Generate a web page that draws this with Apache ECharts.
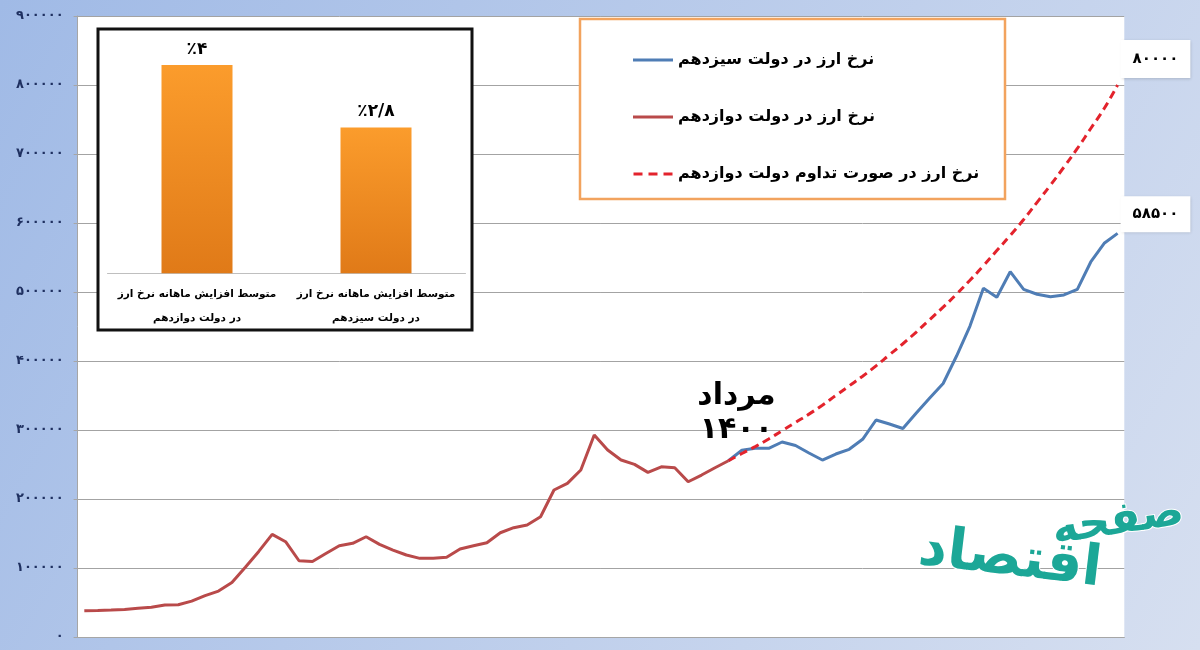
<!DOCTYPE html>
<html>
<head>
<meta charset="utf-8">
<script src="https://cdn.jsdelivr.net/npm/echarts@6/dist/echarts.min.js"></script>
<style>
html,body{margin:0;padding:0;}
#main{width:1200px;height:650px;}
</style>
</head>
<body>
<div id="main"></div>
<script>
// ---------- DATA ----------
// monthly index (78 months), only used as category slots
const monthCount = 78;
const months = Array.from({length: monthCount}, (_, i) => String(i + 1));

// exchange rate during 12th government (months 1..49)
const gov12 = [38100, 38500, 39000, 40000, 41500, 43000, 46400, 46800, 52000, 60000,
  66600, 79000, 101000, 124000, 148800, 138100, 110500, 109500, 121000, 132300,
  135800, 145300, 134300, 126000, 118800, 114000, 114000, 115500, 127500, 132300,
  136600, 151100, 158400, 162300, 174300, 213000, 222700, 242000, 292700, 271000,
  256500, 250200, 238600, 246700, 245300, 225000, 234700, 245300, 255400];

// exchange rate during 13th government (months 49..78)
const gov13 = [255400, 270600, 273500, 273500, 282600, 277500, 266700, 256500, 265200, 272000,
  286500, 314500, 308700, 302200, 324600, 346400, 367400, 407200, 450700, 505400,
  492300, 529400, 503900, 496700, 493200, 495700, 503900, 543500, 570600, 585000];

// projected rate if 12th government had continued (months 49..78)
const projected = [255400, 266000, 276000, 287000, 299000, 311000, 323000, 336000, 350000, 364000,
  378000, 393000, 409000, 425000, 442000, 460000, 478000, 497000, 517000, 538000,
  560000, 582000, 605000, 630000, 655000, 681000, 708000, 737000, 766000, 800000];

const seriesNames = ['نرخ ارز در دولت سیزدهم', 'نرخ ارز در دولت دوازدهم', 'نرخ ارز در صورت تداوم دولت دوازدهم'];
const yTicks = [0, 100000, 200000, 300000, 400000, 500000, 600000, 700000, 800000, 900000];
const endLabels = ['۸۰۰۰۰', '۵۸۵۰۰'];
const annotationText = ['مرداد', '۱۴۰۰'];
const startIndex13 = 48;

// inset bar chart
const insetCategories = ['متوسط افزایش ماهانه نرخ ارز\nدر دولت دوازدهم', 'متوسط افزایش ماهانه نرخ ارز\nدر دولت سیزدهم'];
const insetValues = [4, 2.8];
const insetLabels = ['٪۴', '٪۲/۸'];

const logoWords = ['اقتصاد', 'صفحه'];

// ---------- HELPERS ----------
const faDigits = '۰۱۲۳۴۵۶۷۸۹';
function toFa(n) { return String(n).replace(/[0-9]/g, d => faDigits[+d]); }
function pad(arr, start) { return Array(start).fill(null).concat(arr).concat(Array(Math.max(0, monthCount - start - arr.length)).fill(null)); }

const FONT = 'DejaVu Sans';
const solidIcon = 'path://M0,0H40V3H0Z';
const dashIcon = 'path://M0,0H9V3H0ZM15,0H24V3H15ZM30,0H39V3H30Z';
const chart = echarts.init(document.getElementById('main'), null, {renderer: 'canvas'});

const option = {
  animation: false,
  backgroundColor: new echarts.graphic.LinearGradient(0, 0, 1, 1, [
    {offset: 0, color: '#a0bae6'},
    {offset: 1, color: '#d6dff0'}
  ]),
  textStyle: {fontFamily: FONT},
  grid: [
    {left: 77.6, right: 75.7, top: 16, bottom: 13, show: true, backgroundColor: '#ffffff', borderWidth: 0},
    {left: 107.5, top: 65, width: 358, height: 208.3}
  ],
  legend: {
    data: [
      {name: seriesNames[0], icon: solidIcon},
      {name: seriesNames[1], icon: solidIcon},
      {name: seriesNames[2], icon: dashIcon}
    ],
    orient: 'vertical',
    left: 628,
    top: 45,
    itemWidth: 40,
    itemHeight: 3,
    itemGap: 37,
    textStyle: {fontFamily: FONT, fontSize: 16, fontWeight: 'bold', color: '#000', lineHeight: 20},
    z: 10
  },
  xAxis: [
    {gridIndex: 0, type: 'category', data: months, boundaryGap: true,
     axisLine: {show: true, lineStyle: {color: '#a6a6a6', width: 1}},
     axisTick: {show: false}, axisLabel: {show: false}, splitLine: {show: false}},
    {gridIndex: 1, type: 'category', data: insetCategories, z: 5,
     axisLine: {show: true, lineStyle: {color: '#bfbfbf', width: 1}},
     axisTick: {show: false},
     axisLabel: {interval: 0, margin: 9, fontFamily: FONT, fontSize: 10.5, fontWeight: 'bold', color: '#000', lineHeight: 24}}
  ],
  yAxis: [
    {gridIndex: 0, type: 'value', min: yTicks[0], max: yTicks[yTicks.length - 1], interval: 100000,
     axisLine: {show: true, lineStyle: {color: '#a6a6a6', width: 1}},
     axisTick: {show: true, length: 4, lineStyle: {color: '#a6a6a6'}},
     axisLabel: {margin: 14, formatter: v => toFa(v), fontFamily: FONT, fontSize: 13, fontWeight: 'bold', color: '#1f3060'},
     splitLine: {show: true, lineStyle: {color: '#a3a3a3', width: 1}}},
    {gridIndex: 1, type: 'value', min: 0, max: 4, show: false}
  ],
  graphic: [
    {type: 'rect', z: 1, shape: {x: 98, y: 29, width: 374, height: 301},
     style: {fill: '#ffffff', stroke: '#111111', lineWidth: 3}},
    {type: 'rect', z: 1, shape: {x: 580, y: 19, width: 425, height: 180},
     style: {fill: '#ffffff', stroke: '#f2a35e', lineWidth: 2.5}},
    {type: 'text', z: 5, x: 1010, y: 560, rotation: -0.12,
     style: {text: logoWords[0], fontFamily: FONT, fontSize: 56, fontWeight: 'bold', align: 'center', verticalAlign: 'middle',
             fill: '#1ca797', stroke: '#ffffff', lineWidth: 2,
             shadowColor: 'rgba(10,90,80,0.6)', shadowOffsetX: 2, shadowOffsetY: 2, shadowBlur: 1}},
    {type: 'text', z: 6, x: 1118, y: 522, rotation: 0.15,
     style: {text: logoWords[1], fontFamily: FONT, fontSize: 44, fontWeight: 'bold', align: 'center', verticalAlign: 'middle',
             fill: '#1ca797', stroke: '#ffffff', lineWidth: 2,
             shadowColor: 'rgba(10,90,80,0.6)', shadowOffsetX: 2, shadowOffsetY: 2, shadowBlur: 1}}
  ],
  series: [
    {
      name: seriesNames[1], type: 'line', xAxisIndex: 0, yAxisIndex: 0, z: 2,
      data: pad(gov12, 0), symbol: 'none', connectNulls: false,
      lineStyle: {color: '#b94a4a', width: 3}, itemStyle: {color: '#b94a4a'},
      markPoint: {
        symbol: 'circle', symbolSize: 0,
        data: [{coord: [gov12.length - 1, gov12[gov12.length - 1]]}],
        label: {show: true, formatter: annotationText.join('\n'), position: 'inside',
                offset: [8, -48], fontFamily: FONT, fontSize: 30, fontWeight: 'bold',
                color: '#000', lineHeight: 34, align: 'center'}
      }
    },
    {
      name: seriesNames[0], type: 'line', xAxisIndex: 0, yAxisIndex: 0, z: 3,
      data: pad(gov13, startIndex13), symbol: 'none',
      lineStyle: {color: '#4f7db5', width: 3}, itemStyle: {color: '#4f7db5'},
      endLabel: {show: true, formatter: endLabels[1], distance: 3, offset: [0, -19],
                 backgroundColor: '#ffffff', padding: [11, 12, 10, 12],
                 fontFamily: FONT, fontSize: 15, fontWeight: 'bold', color: '#000',
                 shadowColor: 'rgba(0,0,0,0.18)', shadowBlur: 3, shadowOffsetX: 1, shadowOffsetY: 1}
    },
    {
      name: seriesNames[2], type: 'line', xAxisIndex: 0, yAxisIndex: 0, z: 4,
      data: pad(projected, startIndex13), symbol: 'none', smooth: true,
      lineStyle: {color: '#e3232c', width: 3, type: [8, 5]}, itemStyle: {color: '#e3232c'},
      endLabel: {show: true, formatter: endLabels[0], distance: 3, offset: [0, -26],
                 backgroundColor: '#ffffff', padding: [12, 12, 11, 12],
                 fontFamily: FONT, fontSize: 15, fontWeight: 'bold', color: '#000',
                 shadowColor: 'rgba(0,0,0,0.18)', shadowBlur: 3, shadowOffsetX: 1, shadowOffsetY: 1}
    },
    {
      type: 'bar', xAxisIndex: 1, yAxisIndex: 1, z: 5, barWidth: 71,
      data: insetValues.map((v, i) => ({value: v, label: {formatter: insetLabels[i]}})),
      itemStyle: {color: new echarts.graphic.LinearGradient(0, 0, 0, 1, [
        {offset: 0, color: '#fb9c2c'}, {offset: 1, color: '#e07a18'}])},
      label: {show: true, position: 'top', distance: 7, fontFamily: FONT, fontSize: 17, fontWeight: 'bold', color: '#000'}
    }
  ]
};
chart.setOption(option);
</script>
</body>
</html>
